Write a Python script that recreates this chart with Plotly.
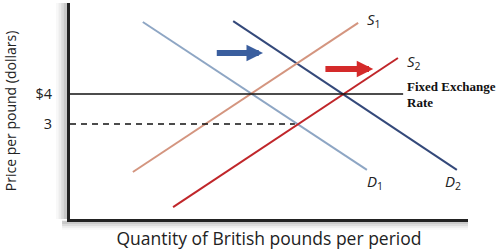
import plotly.graph_objects as go

# Curve endpoints (quantity, price)
d1_x = [1.83, 7.46]; d1_y = [6.40, 1.47]
d2_x = [4.10, 9.72]; d2_y = [6.43, 1.47]
s1_x = [1.58, 7.24]; s1_y = [1.40, 6.37]
s2_x = [2.59, 8.24]; s2_y = [0.23, 5.20]
fixed_x = [0, 8.37]; fixed_y = [4, 4]
dash_x = [0, 5.65]; dash_y = [3, 3]

tick_vals = [3, 4]
tick_text = ["3", "$4"]

# arrows: (x_start, x_end, y)
blue_arrow = [3.65, 4.85, 5.37]
red_arrow = [6.38, 7.62, 4.83]

labels = [
    ("<i>S</i><sub>1</sub>", 7.41, 6.47),
    ("<i>S</i><sub>2</sub>", 8.42, 5.08),
    ("<i>D</i><sub>1</sub>", 7.41, 1.05),
    ("<i>D</i><sub>2</sub>", 9.37, 1.05),
]

fig = go.Figure()
fig.add_trace(go.Scatter(x=d1_x, y=d1_y, mode="lines", line=dict(color="#8ea6c4", width=2)))
fig.add_trace(go.Scatter(x=d2_x, y=d2_y, mode="lines", line=dict(color="#34497a", width=2)))
fig.add_trace(go.Scatter(x=s1_x, y=s1_y, mode="lines", line=dict(color="#d4957f", width=2)))
fig.add_trace(go.Scatter(x=s2_x, y=s2_y, mode="lines", line=dict(color="#c0262a", width=2)))
fig.add_trace(go.Scatter(x=fixed_x, y=fixed_y, mode="lines", line=dict(color="#111111", width=1.5)))
fig.add_trace(go.Scatter(x=dash_x, y=dash_y, mode="lines", line=dict(color="#111111", width=1.5, dash="6px,5px")))

for (x0, x1, y), col in [(blue_arrow, "#3a5e9e"), (red_arrow, "#d42a2a")]:
    fig.add_annotation(x=x1, y=y, ax=x0, ay=y, xref="x", yref="y", axref="x", ayref="y",
                       showarrow=True, arrowhead=2, arrowwidth=6, arrowsize=0.55,
                       arrowcolor=col, text="")

for t, x, y in labels:
    fig.add_annotation(x=x, y=y, xref="x", yref="y", text=t, showarrow=False,
                       xanchor="left", font=dict(family="Open Sans", size=15, color="#222"))

fig.add_annotation(x=8.42, y=4.25, xref="x", yref="y", text="<b>Fixed Exchange</b>", showarrow=False,
                   xanchor="left", font=dict(family="Liberation Serif", size=13, color="#111"))
fig.add_annotation(x=8.42, y=3.73, xref="x", yref="y", text="<b>Rate</b>", showarrow=False,
                   xanchor="left", font=dict(family="Liberation Serif", size=13, color="#111"))

# soft shadow along the axes (decoration)
for i, op in enumerate([0.06, 0.10, 0.15, 0.22]):
    fig.add_shape(type="rect", xref="x domain", yref="y domain", layer="below",
                  x0=-0.035 + i * 0.0065, x1=-0.0045, y0=-0.0, y1=1.0,
                  fillcolor="#888888", opacity=op, line_width=0)
    fig.add_shape(type="rect", xref="x domain", yref="y domain", layer="below",
                  x0=-0.02, x1=1.0, y0=-0.05 + i * 0.009, y1=-0.008,
                  fillcolor="#888888", opacity=op, line_width=0)

fig.update_layout(
    width=500, height=250,
    margin=dict(l=70, r=32, t=3, b=31),
    showlegend=False,
    plot_bgcolor="white", paper_bgcolor="white",
    font=dict(family="Open Sans", color="#222"),
)
fig.update_xaxes(range=[0, 10], showgrid=False, zeroline=False, showticklabels=False,
                 showline=True, linecolor="#222", linewidth=3,
                 title=dict(text="Quantity of British pounds per period", font=dict(size=17.5), standoff=12))
fig.update_yaxes(range=[-0.167, 7.033], showgrid=False, zeroline=False,
                 tickvals=tick_vals, ticktext=tick_text, ticks="", tickfont=dict(size=14.5),
                 ticklabelstandoff=12,
                 showline=True, linecolor="#222", linewidth=3,
                 title=dict(text="Price per pound (dollars)", font=dict(size=14), standoff=16))

fig.write_html("out.html")
